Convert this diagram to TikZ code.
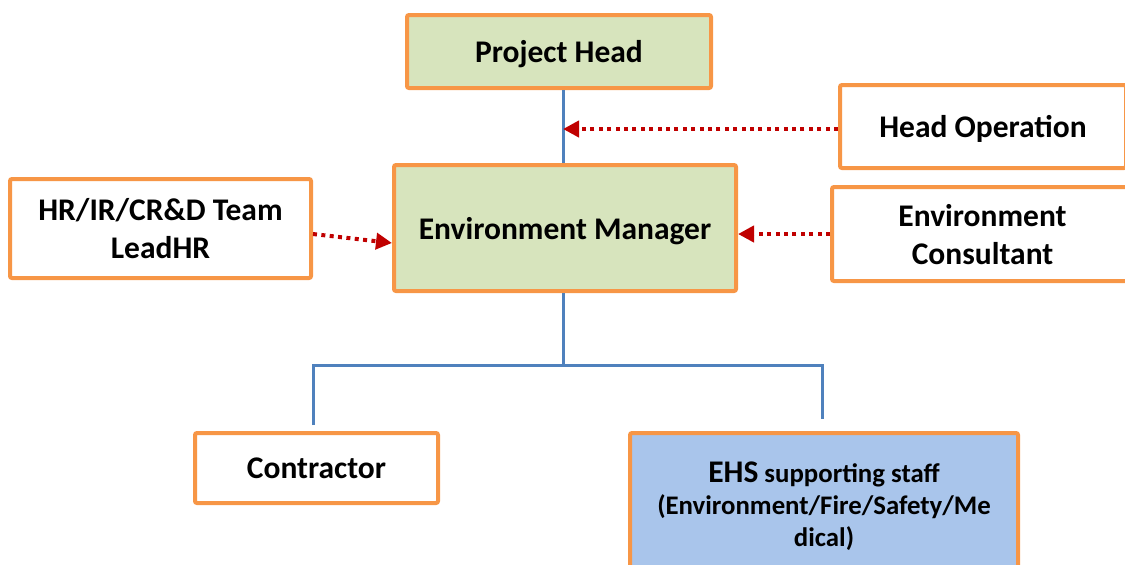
\documentclass[tikz,border=0pt]{standalone}
\usepackage{fontspec}
\setmainfont{Carlito}
\usepackage{xcolor}
\usetikzlibrary{arrows.meta}
\definecolor{boxorange}{HTML}{F79646}
\definecolor{mgrgreen}{HTML}{D7E4BD}
\definecolor{staffblue}{HTML}{A9C5EB}
\definecolor{linkblue}{HTML}{4F81BD}
\definecolor{dotred}{HTML}{C00000}
\begin{document}
\begin{tikzpicture}[x=0.5pt,y=-0.5pt,
box/.style={draw=boxorange,line width=2pt,rounded corners=1pt,fill=white,align=center,
    inner sep=0pt,text depth=0pt,font=\fontsize{15.75}{19}\selectfont\bfseries},
tree/.style={draw=linkblue,line width=1.5pt},
dotarrow/.style={draw=dotred,line width=2pt,dash pattern=on 2pt off 2.2pt,
    -{Triangle[length=8pt,width=8pt]}}]
\useasboundingbox (0,0) rectangle (1125,564);
\clip (0,0) rectangle (1125,564);
\node (ph) [box,fill=mgrgreen,minimum width=152pt,minimum height=36.5pt] at (559,51.5) {Project Head};
\node (hop) [box,minimum width=143pt,minimum height=41.5pt] at (983,126.5) {Head Operation};
\node (em) [box,fill=mgrgreen,minimum width=171pt,minimum height=63pt] at (565,228) {Environment Manager};
\node (hr) [box,minimum width=150.5pt,minimum height=49.5pt] at (160.5,228.5) {HR/IR/CR\&D Team\\LeadHR};
\node (ec) [box,minimum width=150.5pt,minimum height=47pt] at (982.5,234) {Environment\\Consultant};
\node (con) [box,minimum width=121.5pt,minimum height=35pt] at (316.5,468) {Contractor};
\node (ehs) [box,fill=staffblue,minimum width=194pt,minimum height=71pt,
    font=\fontsize{13.4}{16}\selectfont\bfseries] at (824,504)
    {{\fontsize{15.75}{16}\selectfont EHS} supporting staff\\(Environment/Fire/Safety/Me\\dical)};
\coordinate (ctr) at (563,129);
\coordinate (jn) at (563,365);
\draw[tree] (ph.south -| ctr) -- (em.north -| ctr);
\draw[dotarrow] (hop.west |- ctr) -- (ctr);
\draw[dotarrow] ([yshift=-2.75pt]hr.east) -- ([yshift=-7.5pt]em.west);
\draw[dotarrow] (ec.west) -- (em.east |- ec.west);
\draw[tree] (em.south -| jn) -- (jn);
\draw[tree] ([xshift=-1.75pt,yshift=3pt]con.north) |- (jn) -| ([xshift=-1pt,yshift=6pt]ehs.north);
\end{tikzpicture}
\end{document}
